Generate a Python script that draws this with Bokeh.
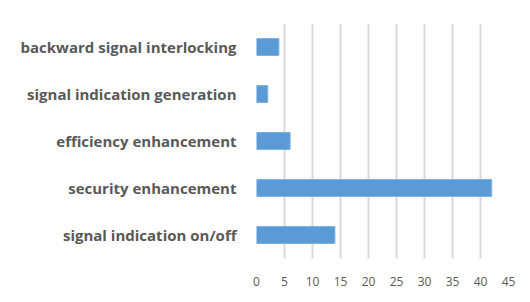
from bokeh.plotting import figure
from bokeh.models import FactorRange, ColumnDataSource
from bokeh.embed import file_html
from bokeh.resources import INLINE

categories = [
    "backward signal interlocking",
    "signal indication generation",
    "efficiency enhancement",
    "security enhancement",
    "signal indication on/off",
]
values = [4, 2, 6, 42, 14]
x_ticks = [0, 5, 10, 15, 20, 25, 30, 35, 40, 45]

src = ColumnDataSource(dict(cat=categories, val=values))

p = figure(
    width=522, height=294,
    y_range=FactorRange(factors=list(reversed(categories))),
    x_range=(0, 45),
    output_backend="svg", toolbar_location=None,
    min_border_left=256, min_border_right=14, min_border_top=23, min_border_bottom=36,
)

p.hbar(y="cat", right="val", left=0, height=0.36, source=src,
       fill_color="#5b9bd5", line_color="#7fb0de", line_width=1)

p.outline_line_color = None
p.xaxis.ticker = x_ticks
p.xaxis.axis_line_color = None
p.xaxis.major_tick_line_color = None
p.xaxis.minor_tick_line_color = None
p.xaxis.major_label_standoff = 12
p.xaxis.major_label_text_font = "Open Sans"
p.xaxis.major_label_text_font_size = "12px"
p.xaxis.major_label_text_color = "#595959"

p.yaxis.axis_line_color = None
p.yaxis.major_tick_line_color = None
p.yaxis.minor_tick_line_color = None
p.yaxis.major_label_standoff = 14
p.yaxis.major_label_text_font = "Open Sans"
p.yaxis.major_label_text_font_style = "bold"
p.yaxis.major_label_text_font_size = "15px"
p.yaxis.major_label_text_color = "#595959"

p.ygrid.grid_line_color = None
p.xgrid.grid_line_color = "#d9d9d9"
p.xgrid.grid_line_width = 2

open("out.html", "w").write(file_html(p, INLINE))
